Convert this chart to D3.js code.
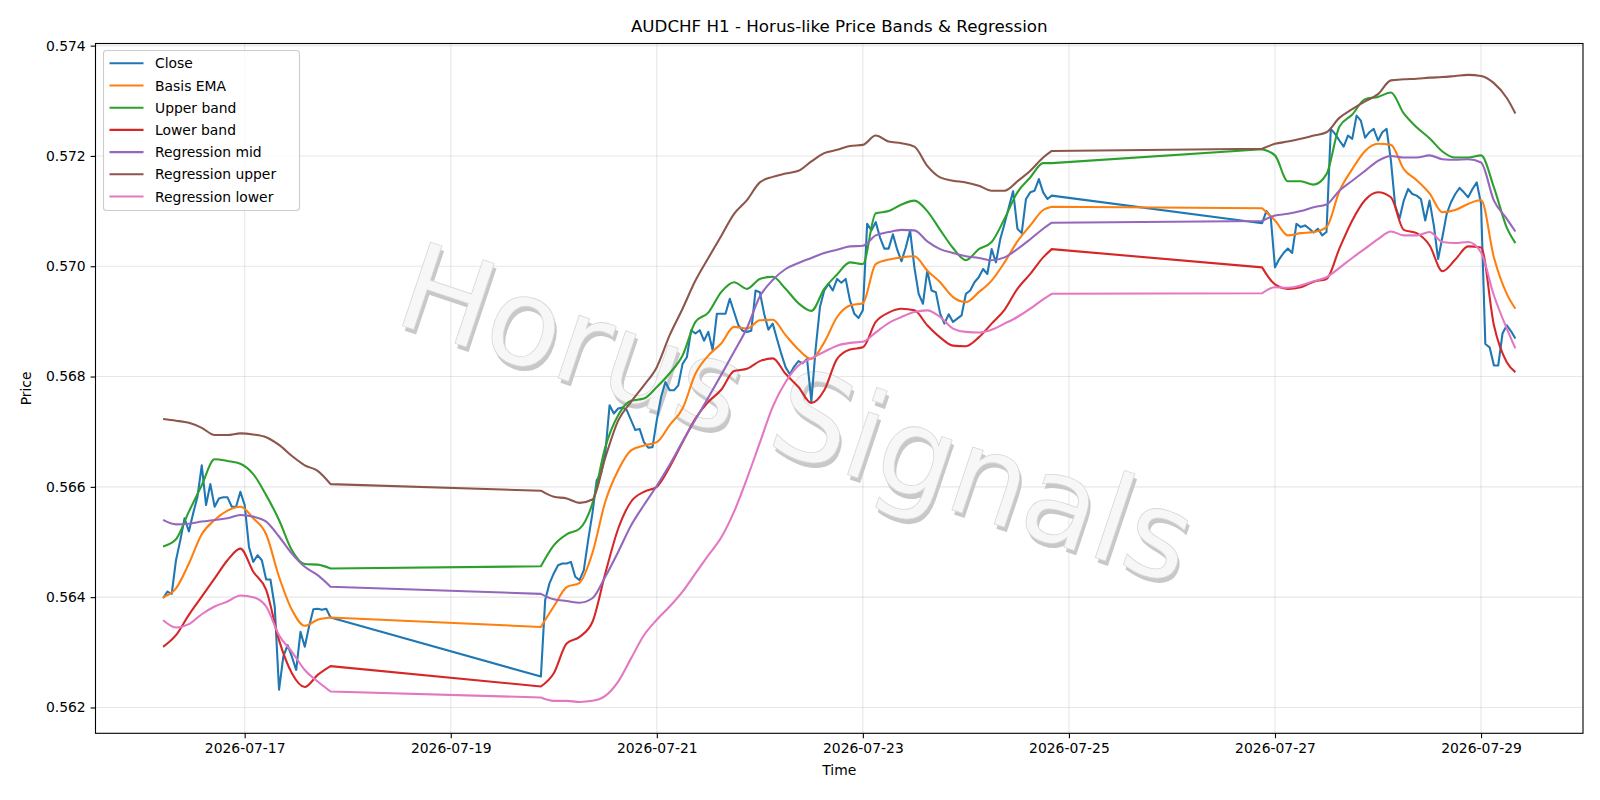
<!DOCTYPE html>
<html>
<head>
<meta charset="utf-8">
<script src="https://cdn.jsdelivr.net/npm/d3@7"></script>
<style>
  body { margin: 0; background: #fff; }
  svg text { font-family: "DejaVu Sans", sans-serif; }
</style>
</head>
<body>
<script>
// hourly bars, three trading sessions (weekend gaps in between)
const sessionStarts = ["2026-07-16T05:00:00Z", "2026-07-19T21:00:00Z", "2026-07-26T21:00:00Z"];

const closeA = [0.56398, 0.56410, 0.56406, 0.56467, 0.56503, 0.56543, 0.56519, 0.56552, 0.56582, 0.56639,
  0.56567, 0.56605, 0.56564, 0.56579, 0.56581, 0.56581, 0.56564, 0.56564, 0.56591, 0.56567,
  0.56491, 0.56464, 0.56476, 0.56467, 0.56432, 0.56432, 0.56383, 0.56232, 0.56292, 0.56313,
  0.56292, 0.56268, 0.56337, 0.56310, 0.56347, 0.56378, 0.56379, 0.56377, 0.56379, 0.56363];
const closeB = [0.56256, 0.56395, 0.56425, 0.56443, 0.56458, 0.56461, 0.56461, 0.56464, 0.56437, 0.56431,
  0.56449, 0.56503, 0.56552, 0.56612, 0.56624, 0.56660, 0.56748, 0.56733, 0.56742, 0.56744,
  0.56739, 0.56721, 0.56703, 0.56705, 0.56681, 0.56671, 0.56672, 0.56721, 0.56763, 0.56790,
  0.56775, 0.56775, 0.56784, 0.56823, 0.56835, 0.56884, 0.56878, 0.56884, 0.56865, 0.56881,
  0.56848, 0.56914, 0.56914, 0.56914, 0.56941, 0.56917, 0.56893, 0.56883, 0.56881, 0.56883,
  0.56956, 0.56953, 0.56914, 0.56885, 0.56896, 0.56868, 0.56841, 0.56817, 0.56804, 0.56818,
  0.56828, 0.56824, 0.56832, 0.56755, 0.56850, 0.56926, 0.56956, 0.56968, 0.56956, 0.56977,
  0.56970, 0.56977, 0.56938, 0.56914, 0.56906, 0.56920, 0.57077, 0.57065, 0.57080, 0.57052,
  0.57032, 0.57032, 0.57058, 0.57030, 0.57009, 0.57034, 0.57065, 0.56998, 0.56950, 0.56932,
  0.56992, 0.56956, 0.56953, 0.56914, 0.56896, 0.56913, 0.56899, 0.56905, 0.56911, 0.56950,
  0.56956, 0.56971, 0.56980, 0.56995, 0.56986, 0.57031, 0.57007, 0.57049, 0.57077, 0.57107,
  0.57136, 0.57068, 0.57060, 0.57122, 0.57134, 0.57137, 0.57158, 0.57134, 0.57122, 0.57128];
const closeC = [0.57078, 0.57100, 0.57090, 0.56998, 0.57013, 0.57024, 0.57032, 0.57024, 0.57077, 0.57071,
  0.57074, 0.57068, 0.57061, 0.57068, 0.57056, 0.57062, 0.57249, 0.57240, 0.57228, 0.57217,
  0.57237, 0.57231, 0.57273, 0.57264, 0.57233, 0.57243, 0.57249, 0.57228, 0.57243, 0.57249,
  0.57192, 0.57110, 0.57086, 0.57119, 0.57140, 0.57131, 0.57128, 0.57122, 0.57083, 0.57119,
  0.57074, 0.57013, 0.57053, 0.57095, 0.57116, 0.57131, 0.57142, 0.57134, 0.57125, 0.57140,
  0.57152, 0.57113, 0.56859, 0.56853, 0.56820, 0.56820, 0.56878, 0.56893, 0.56882, 0.56869];

// band readings, hours after the first bar
const bandHours = [0, 3, 6, 9, 12, 15, 18, 21, 24, 27, 30, 33, 36, 39,
  88, 91, 94, 97, 100, 103, 106, 109, 112, 115, 118, 121, 124, 127, 130, 133, 136, 139, 142, 145,
  148, 151, 154, 157, 160, 163, 166, 169, 172, 175, 178, 181, 184, 187, 190, 193, 196, 199, 202, 205, 207,
  256, 259, 262, 265, 268, 271, 274, 277, 280, 283, 286, 289, 292, 295, 298, 301, 304, 307, 310, 313, 315];

const basisEma = [0.56400, 0.56416, 0.56461, 0.56514, 0.56540, 0.56557, 0.56564, 0.56543, 0.56514, 0.56437, 0.56377, 0.56348, 0.56359, 0.56363,
  0.56346, 0.56383, 0.56418, 0.56426, 0.56480, 0.56573, 0.56630, 0.56666, 0.56675, 0.56681, 0.56712, 0.56742, 0.56805, 0.56838, 0.56860, 0.56890, 0.56887, 0.56902, 0.56903, 0.56875,
  0.56849, 0.56832, 0.56862, 0.56908, 0.56929, 0.56933, 0.57004, 0.57012, 0.57016, 0.57018, 0.56992, 0.56971, 0.56944, 0.56935, 0.56953, 0.56974, 0.57007, 0.57045, 0.57074, 0.57102, 0.57108,
  0.57105, 0.57083, 0.57056, 0.57060, 0.57062, 0.57071, 0.57136, 0.57176, 0.57209, 0.57222, 0.57220, 0.57176, 0.57156, 0.57132, 0.57098, 0.57102, 0.57113, 0.57120, 0.57016, 0.56950, 0.56923];
const upperBand = [0.56492, 0.56505, 0.56555, 0.56603, 0.56650, 0.56647, 0.56642, 0.56623, 0.56585, 0.56540, 0.56485, 0.56460, 0.56459, 0.56452,
  0.56456, 0.56494, 0.56514, 0.56524, 0.56570, 0.56672, 0.56730, 0.56756, 0.56760, 0.56781, 0.56806, 0.56838, 0.56899, 0.56916, 0.56953, 0.56971, 0.56959, 0.56977, 0.56981, 0.56959,
  0.56933, 0.56919, 0.56959, 0.56985, 0.57007, 0.57004, 0.57096, 0.57100, 0.57112, 0.57119, 0.57100, 0.57066, 0.57033, 0.57011, 0.57031, 0.57044, 0.57086, 0.57134, 0.57161, 0.57187, 0.57187,
  0.57212, 0.57201, 0.57154, 0.57154, 0.57148, 0.57167, 0.57253, 0.57275, 0.57303, 0.57307, 0.57315, 0.57277, 0.57252, 0.57232, 0.57208, 0.57197, 0.57197, 0.57201, 0.57143, 0.57070, 0.57042];
const lowerBand = [0.56310, 0.56331, 0.56368, 0.56401, 0.56434, 0.56467, 0.56488, 0.56446, 0.56413, 0.56322, 0.56262, 0.56237, 0.56259, 0.56275,
  0.56238, 0.56262, 0.56316, 0.56328, 0.56355, 0.56443, 0.56524, 0.56573, 0.56591, 0.56600, 0.56636, 0.56681, 0.56724, 0.56754, 0.56776, 0.56810, 0.56814, 0.56828, 0.56833, 0.56805,
  0.56781, 0.56752, 0.56775, 0.56832, 0.56849, 0.56853, 0.56899, 0.56916, 0.56923, 0.56920, 0.56893, 0.56871, 0.56856, 0.56855, 0.56871, 0.56896, 0.56921, 0.56959, 0.56986, 0.57016, 0.57031,
  0.56998, 0.56967, 0.56959, 0.56962, 0.56972, 0.56977, 0.57032, 0.57083, 0.57120, 0.57134, 0.57125, 0.57066, 0.57060, 0.57038, 0.56991, 0.57012, 0.57036, 0.57034, 0.56893, 0.56826, 0.56808];
const regMid = [0.56540, 0.56532, 0.56533, 0.56537, 0.56540, 0.56543, 0.56549, 0.56546, 0.56537, 0.56510, 0.56479, 0.56455, 0.56440, 0.56419,
  0.56406, 0.56396, 0.56393, 0.56390, 0.56398, 0.56437, 0.56482, 0.56530, 0.56567, 0.56602, 0.56640, 0.56682, 0.56722, 0.56762, 0.56803, 0.56845, 0.56888, 0.56945, 0.56975, 0.56995,
  0.57006, 0.57015, 0.57024, 0.57030, 0.57036, 0.57037, 0.57056, 0.57062, 0.57066, 0.57065, 0.57045, 0.57031, 0.57024, 0.57018, 0.57015, 0.57011, 0.57016, 0.57031, 0.57049, 0.57068, 0.57079,
  0.57082, 0.57092, 0.57095, 0.57100, 0.57107, 0.57112, 0.57137, 0.57155, 0.57173, 0.57191, 0.57200, 0.57197, 0.57197, 0.57201, 0.57194, 0.57193, 0.57194, 0.57188, 0.57119, 0.57086, 0.57063];
const regUpper = [0.56723, 0.56720, 0.56716, 0.56707, 0.56694, 0.56694, 0.56697, 0.56695, 0.56690, 0.56676, 0.56656, 0.56639, 0.56629, 0.56605,
  0.56593, 0.56582, 0.56579, 0.56571, 0.56577, 0.56653, 0.56720, 0.56754, 0.56784, 0.56817, 0.56875, 0.56923, 0.56974, 0.57015, 0.57055, 0.57095, 0.57120, 0.57152, 0.57162, 0.57168,
  0.57173, 0.57190, 0.57205, 0.57211, 0.57218, 0.57220, 0.57237, 0.57226, 0.57223, 0.57217, 0.57182, 0.57161, 0.57155, 0.57152, 0.57146, 0.57137, 0.57137, 0.57154, 0.57173, 0.57197, 0.57209,
  0.57213, 0.57222, 0.57226, 0.57231, 0.57237, 0.57243, 0.57269, 0.57285, 0.57299, 0.57312, 0.57337, 0.57339, 0.57340, 0.57342, 0.57343, 0.57345, 0.57347, 0.57345, 0.57332, 0.57305, 0.57277];
const regLower = [0.56358, 0.56345, 0.56351, 0.56369, 0.56383, 0.56392, 0.56403, 0.56400, 0.56383, 0.56331, 0.56301, 0.56268, 0.56247, 0.56229,
  0.56218, 0.56212, 0.56212, 0.56210, 0.56212, 0.56221, 0.56247, 0.56289, 0.56331, 0.56359, 0.56383, 0.56410, 0.56443, 0.56476, 0.56508, 0.56555, 0.56615, 0.56680, 0.56745, 0.56790,
  0.56820, 0.56833, 0.56845, 0.56856, 0.56861, 0.56863, 0.56880, 0.56897, 0.56908, 0.56917, 0.56920, 0.56908, 0.56887, 0.56881, 0.56880, 0.56885, 0.56896, 0.56908, 0.56923, 0.56940, 0.56950,
  0.56951, 0.56962, 0.56961, 0.56965, 0.56973, 0.56980, 0.56997, 0.57015, 0.57032, 0.57049, 0.57063, 0.57056, 0.57056, 0.57062, 0.57044, 0.57042, 0.57044, 0.57025, 0.56947, 0.56887, 0.56851];

const xTickLabels = ["2026-07-17", "2026-07-19", "2026-07-21", "2026-07-23", "2026-07-25", "2026-07-27", "2026-07-29"];
const yTickValues = [0.562, 0.564, 0.566, 0.568, 0.570, 0.572, 0.574];

const seriesNames = ["Close", "Basis EMA", "Upper band", "Lower band", "Regression mid", "Regression upper", "Regression lower"];
const seriesColors = ["#1f77b4", "#ff7f0e", "#2ca02c", "#d62728", "#9467bd", "#8c564b", "#e377c2"];

const W = 1600, H = 800;
const margin = {top: 43.5, right: 17, bottom: 66.7, left: 95.5};
const HOUR = 3600e3;
const starts = sessionStarts.map(s => new Date(s).getTime());

const closePts = [];
[closeA, closeB, closeC].forEach((arr, s) => {
  arr.forEach((v, i) => closePts.push({t: new Date(starts[s] + i * HOUR), v}));
});
const bandSeries = [basisEma, upperBand, lowerBand, regMid, regUpper, regLower]
  .map(arr => arr.map((v, i) => ({t: new Date(starts[0] + bandHours[i] * HOUR), v})));
const allSeries = [closePts, ...bandSeries];

// matplotlib-like 5% padding
const tMin = closePts[0].t.getTime(), tMax = closePts[closePts.length - 1].t.getTime();
const tPad = (tMax - tMin) * 0.05;
const allV = allSeries.flat().map(d => d.v);
const vMin = d3.min(allV), vMax = d3.max(allV), vPad = (vMax - vMin) * 0.05;

const x = d3.scaleUtc()
  .domain([new Date(tMin - tPad), new Date(tMax + tPad)])
  .range([margin.left, W - margin.right]);
const y = d3.scaleLinear()
  .domain([vMin - vPad, vMax + vPad])
  .range([H - margin.bottom, margin.top]);

const svg = d3.select("body").append("svg")
  .attr("width", W).attr("height", H);

// grid
const xTicks = xTickLabels.map(s => new Date(s + "T00:00:00Z"));
svg.append("g").selectAll("line").data(xTicks).join("line")
  .attr("x1", d => x(d)).attr("x2", d => x(d))
  .attr("y1", margin.top).attr("y2", H - margin.bottom)
  .attr("stroke", "#b0b0b0").attr("stroke-opacity", 0.3).attr("stroke-width", 1.1);
svg.append("g").selectAll("line").data(yTickValues).join("line")
  .attr("x1", margin.left).attr("x2", W - margin.right)
  .attr("y1", d => y(d)).attr("y2", d => y(d))
  .attr("stroke", "#b0b0b0").attr("stroke-opacity", 0.3).attr("stroke-width", 1.1);

// watermark
const wm = svg.append("g")
  .attr("transform", "translate(797,414) rotate(18.5)");
wm.append("text")
  .attr("x", 3.5).attr("y", 4)
  .attr("text-anchor", "middle").attr("dominant-baseline", "central")
  .attr("font-size", 121).attr("fill", "#c8c8c8")
  .text("Horus Signals");
wm.append("text")
  .attr("text-anchor", "middle").attr("dominant-baseline", "central")
  .attr("font-size", 121).attr("fill", "#f7f7f7")
  .attr("stroke", "#d8d8d8").attr("stroke-width", 0.8)
  .text("Horus Signals");

// lines: each session drawn on its own, weekend gaps joined straight
const line = d3.line().x(d => x(d.t)).y(d => y(d.v));
const smooth = d3.line().x(d => x(d.t)).y(d => y(d.v)).curve(d3.curveMonotoneX);
const sessionOf = d => d3.bisectRight(starts, d.t.getTime()) - 1;
function bandPath(pts) {
  const groups = d3.groups(pts, sessionOf).map(g => g[1]);
  return groups.map((g, i) => {
    const p = smooth(g);
    return i === 0 ? p : p.replace(/^M/, "L");
  }).join("");
}
svg.append("g").selectAll("path").data(allSeries).join("path")
  .attr("d", (d, i) => i === 0 ? line(d) : bandPath(d))
  .attr("fill", "none")
  .attr("stroke", (d, i) => seriesColors[i])
  .attr("stroke-width", 2.08)
  .attr("stroke-linejoin", "round");

// axes
const xAxis = d3.axisBottom(x).tickValues(xTicks)
  .tickFormat(d3.utcFormat("%Y-%m-%d")).tickSizeOuter(0).tickSize(4.9).tickPadding(4.9);
const yAxis = d3.axisLeft(y).tickValues(yTickValues)
  .tickFormat(d3.format(".3f")).tickSizeOuter(0).tickSize(4.9).tickPadding(4.9);
const gx = svg.append("g").attr("transform", `translate(0,${H - margin.bottom})`).call(xAxis);
const gy = svg.append("g").attr("transform", `translate(${margin.left},0)`).call(yAxis);
[gx, gy].forEach(g => {
  g.select(".domain").remove();
  g.selectAll("text").attr("font-size", 13.9).attr("fill", "#000").attr("font-family", "DejaVu Sans");
  g.selectAll(".tick line").attr("stroke", "#000").attr("stroke-width", 1.1);
});

svg.append("rect")
  .attr("x", margin.left).attr("y", margin.top)
  .attr("width", W - margin.left - margin.right)
  .attr("height", H - margin.top - margin.bottom)
  .attr("fill", "none").attr("stroke", "#000").attr("stroke-width", 1.1);

// labels
svg.append("text")
  .attr("x", (margin.left + W - margin.right) / 2).attr("y", 32)
  .attr("text-anchor", "middle").attr("font-size", 16.7)
  .text("AUDCHF H1 - Horus-like Price Bands & Regression");
svg.append("text")
  .attr("x", (margin.left + W - margin.right) / 2).attr("y", 775)
  .attr("text-anchor", "middle").attr("font-size", 13.9)
  .text("Time");
svg.append("text")
  .attr("transform", `translate(31,${(margin.top + H - margin.bottom) / 2}) rotate(-90)`)
  .attr("text-anchor", "middle").attr("font-size", 13.9)
  .text("Price");

// legend
const lg = svg.append("g").attr("transform", "translate(103.5,50.5)");
lg.append("rect")
  .attr("width", 196).attr("height", 160).attr("rx", 3)
  .attr("fill", "#fff").attr("fill-opacity", 0.8)
  .attr("stroke", "#cccccc").attr("stroke-width", 1.1);
const items = lg.selectAll("g.item").data(seriesNames).join("g")
  .attr("class", "item")
  .attr("transform", (d, i) => `translate(0,${12.8 + i * 22.2})`);
items.append("line")
  .attr("x1", 6).attr("x2", 40)
  .attr("stroke", (d, i) => seriesColors[i]).attr("stroke-width", 2.08);
items.append("text")
  .attr("x", 51.5).attr("dy", "0.36em")
  .attr("font-size", 13.9)
  .text(d => d);
</script>
</body>
</html>
